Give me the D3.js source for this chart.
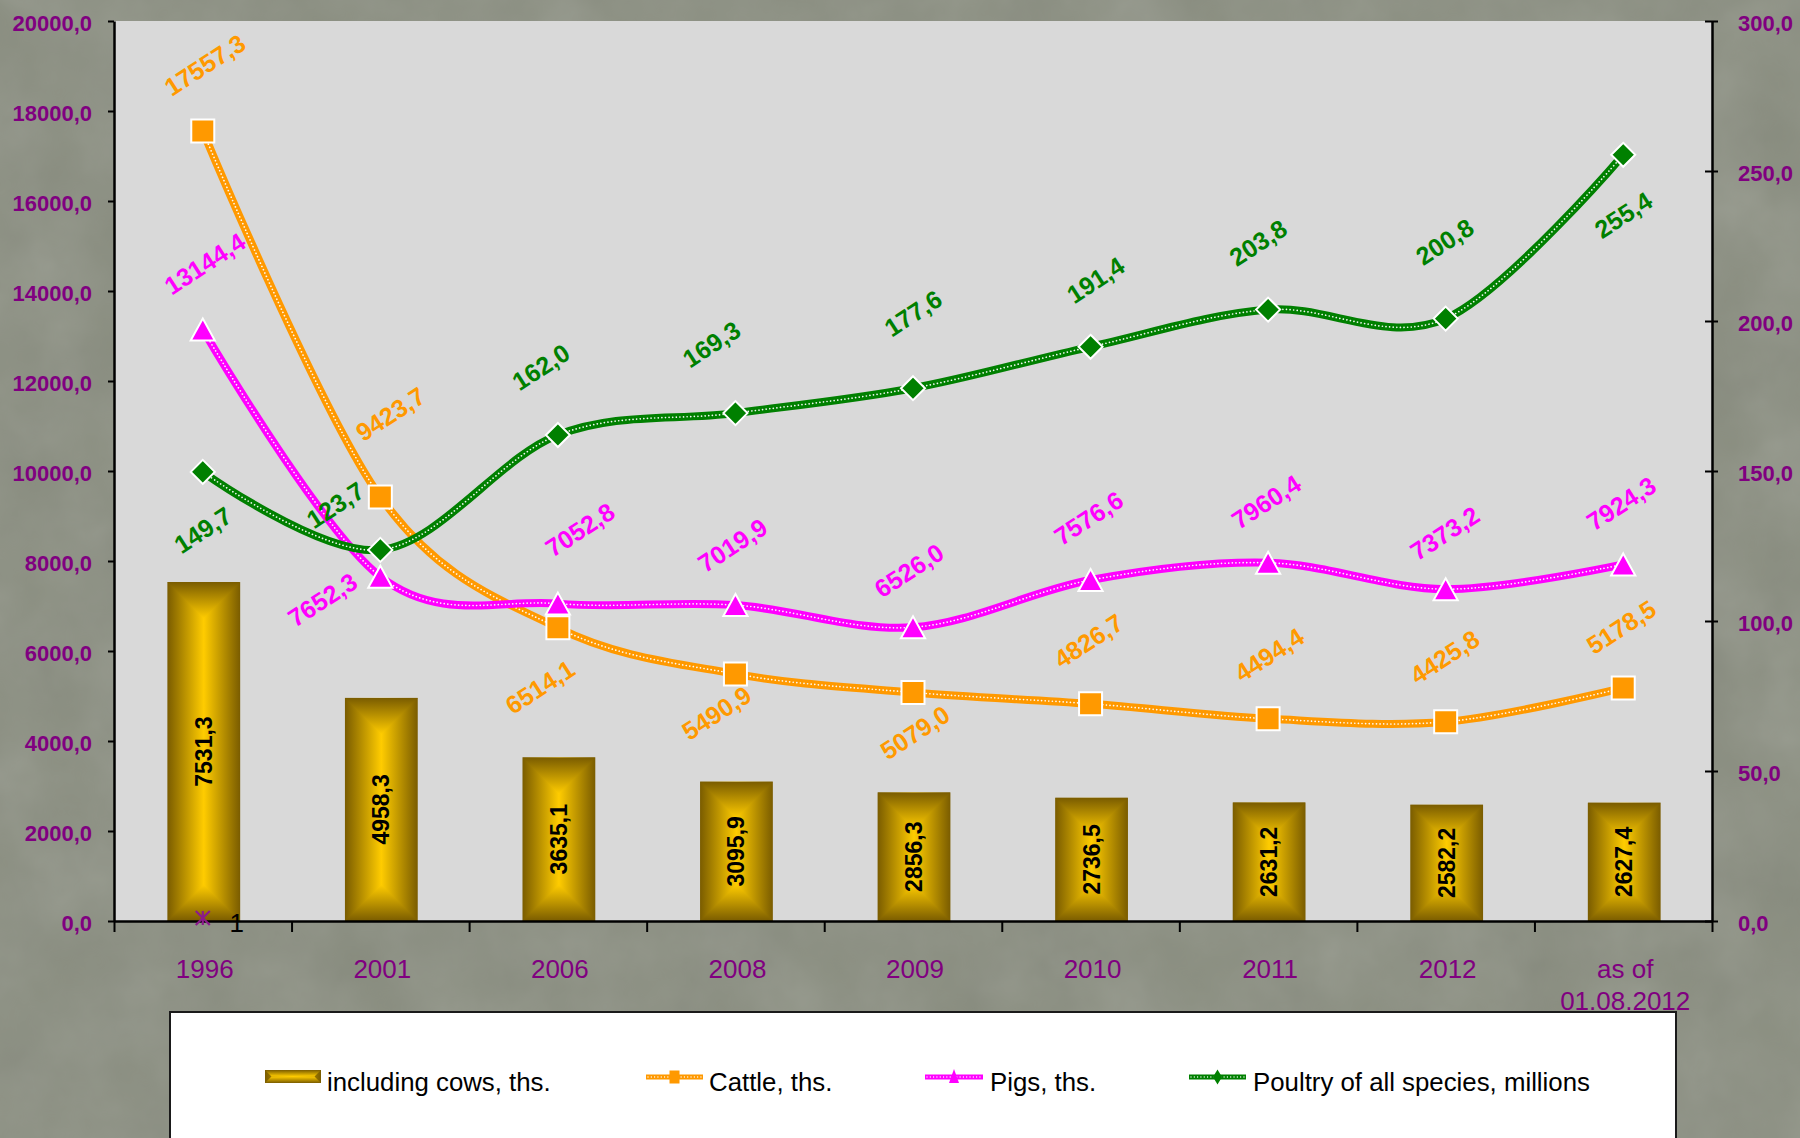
<!DOCTYPE html>
<html><head><meta charset="utf-8">
<script src="https://cdn.jsdelivr.net/npm/d3@7"></script>
<style>
html,body{margin:0;padding:0;background:#8a8e80;}
svg{display:block;font-family:"Liberation Sans",Arial,sans-serif;}
</style>
</head><body>
<svg id="chart" width="1800" height="1138"></svg>
<script>
// ---------------- DATA ----------------
const categories = ["1996","2001","2006","2008","2009","2010","2011","2012","as of\n01.08.2012"];
const cows    = [7531.3, 4958.3, 3635.1, 3095.9, 2856.3, 2736.5, 2631.2, 2582.2, 2627.4];
const cattle  = [17557.3, 9423.7, 6514.1, 5490.9, 5079.0, 4826.7, 4494.4, 4425.8, 5178.5];
const pigs    = [13144.4, 7652.3, 7052.8, 7019.9, 6526.0, 7576.6, 7960.4, 7373.2, 7924.3];
const poultry = [149.7, 123.7, 162.0, 169.3, 177.6, 191.4, 203.8, 200.8, 255.4];
const leftTicks  = [0, 2000, 4000, 6000, 8000, 10000, 12000, 14000, 16000, 18000, 20000];
const rightTicks = [0, 50, 100, 150, 200, 250, 300];
const seriesNames = ["including cows, ths.", "Cattle, ths.", "Pigs, ths.", "Poultry of all species, millions"];
const strayCategory = ["1996"];
const strayValue = [1];
const strayLabel = ["1"];

// ---------------- LAYOUT (label placement relative to markers) ----------------
const cattleLabelOff  = [[2,-66],[10,-83],[-18,59],[-19,39],[2,40],[-2,-63],[1,-64],[-1,-65],[-2,-61]];
const pigsLabelOff    = [[2,-66],[-58,23],[22,-74],[-3,-60],[-4,-57],[-2,-62],[-2,-61],[-1,-56],[-2,-61]];
const poultryLabelOff = [[0,58],[-45,-45],[-17,-68],[-24,-69],[0,-75],[5,-67],[-10,-67],[-1,-77],[0,60]];

const W = 1800, H = 1138;
const L = 114, R = 1712, T = 21, B = 921;
const C_CATTLE = "#ff9900", C_PIGS = "#ff00ff", C_POULTRY = "#008000", C_AXIS = "#800080";
const fmt = v => d3.format(".1f")(v).replace(".", ",");

const svg = d3.select("#chart");
const defs = svg.append("defs");

// background texture
const flt = defs.append("filter").attr("id","noise").attr("x",0).attr("y",0).attr("width","100%").attr("height","100%");
flt.append("feTurbulence").attr("type","fractalNoise").attr("baseFrequency","0.012").attr("numOctaves",4).attr("seed",7);
flt.append("feColorMatrix").attr("type","saturate").attr("values","0");
svg.append("rect").attr("width",W).attr("height",H).attr("fill","#8a8e80");
svg.append("rect").attr("width",W).attr("height",H).attr("fill","#fff").attr("filter","url(#noise)").attr("opacity",0.2);

// bar gradients (rectangular "from centre" look)
const DARK = "#7a5c00", BRIGHT = "#ffcc00";
function lg(id, x1,y1,x2,y2, stops){
  const g = defs.append("linearGradient").attr("id",id).attr("x1",x1).attr("y1",y1).attr("x2",x2).attr("y2",y2);
  stops.forEach(([o,c]) => g.append("stop").attr("offset",o).attr("stop-color",c));
}
lg("gH",0,0,1,0,[[0,DARK],[0.5,BRIGHT],[1,DARK]]);
lg("gTop",0,0,0,1,[[0,DARK],[1,BRIGHT]]);
lg("gBot",0,0,0,1,[[0,BRIGHT],[1,DARK]]);

function miterBar(g, x, y, w, h){
  const hw = Math.min(w, h) / 2;
  g.append("rect").attr("x",x).attr("y",y).attr("width",w).attr("height",h).attr("fill","url(#gH)");
  g.append("path").attr("d",`M${x},${y}L${x+w},${y}L${x+w-hw},${y+hw}L${x+hw},${y+hw}Z`).attr("fill","url(#gTop)");
  g.append("path").attr("d",`M${x},${y+h}L${x+w},${y+h}L${x+w-hw},${y+h-hw}L${x+hw},${y+h-hw}Z`).attr("fill","url(#gBot)");
}

// scales
const x = d3.scaleBand().domain(categories).range([L, R]).padding(0);
const cx = c => x(c) + x.bandwidth()/2;
const yL = d3.scaleLinear().domain([0, 20000]).range([B, T]);
const yR = d3.scaleLinear().domain([0, 300]).range([B, T]);

// plot area
svg.append("rect").attr("x",L).attr("y",T).attr("width",R-L).attr("height",B-T).attr("fill","#d9d9d9");

// bars
const barW = x.bandwidth() * 0.41;
const gBars = svg.append("g");
categories.forEach((c, i) => {
  const g = gBars.append("g");
  const y0 = yL(cows[i]);
  miterBar(g, cx(c) - barW/2 + 1, y0, barW, B - y0);
  g.append("text")
    .attr("transform", `translate(${cx(c)+1},${(y0+B)/2}) rotate(-90)`)
    .attr("text-anchor","middle").attr("dominant-baseline","central")
    .attr("font-size",23).attr("font-weight","bold").attr("fill","#000")
    .text(fmt(cows[i]));
});

// axes
const axL = svg.append("g").attr("transform",`translate(${L},0)`)
  .call(d3.axisLeft(yL).tickValues(leftTicks).tickSize(6).tickSizeOuter(0).tickPadding(16).tickFormat(fmt));
axL.select(".domain").attr("stroke","#000").attr("stroke-width",2.5);
axL.selectAll(".tick line").attr("stroke","#000").attr("stroke-width",2);
axL.selectAll(".tick text").attr("font-size",22).attr("font-weight","bold").attr("fill",C_AXIS)
  .attr("font-family","Liberation Sans, Arial, sans-serif").attr("dy","0.45em");

const axR = svg.append("g").attr("transform",`translate(${R},0)`)
  .call(d3.axisRight(yR).tickValues(rightTicks).tickSize(6).tickSizeOuter(0).tickPadding(20).tickFormat(fmt));
axR.select(".domain").attr("stroke","#000").attr("stroke-width",2.5);
axR.selectAll(".tick line").attr("x1",-7).attr("stroke","#000").attr("stroke-width",2);
axR.selectAll(".tick text").attr("font-size",22).attr("font-weight","bold").attr("fill",C_AXIS)
  .attr("font-family","Liberation Sans, Arial, sans-serif").attr("dy","0.45em");

// bottom axis: boundary ticks
const xb = d3.scaleLinear().domain([0, categories.length]).range([L, R]);
const axB = svg.append("g").attr("transform",`translate(0,${B})`)
  .call(d3.axisBottom(xb).tickValues(d3.range(categories.length+1)).tickSize(11).tickSizeOuter(0).tickFormat(""));
axB.select(".domain").attr("stroke","#000").attr("stroke-width",2.5);
axB.selectAll(".tick line").attr("stroke","#000").attr("stroke-width",2);

// category labels
categories.forEach(c => {
  const t = svg.append("text").attr("x",cx(c)+2).attr("y",978).attr("text-anchor","middle")
    .attr("font-size",26).attr("fill",C_AXIS);
  c.split("\n").forEach((ln, k) => {
    t.append("tspan").attr("x",cx(c)+2).attr("dy", k ? 32 : 0).text(ln);
  });
});

// lines
const curve = d3.curveCatmullRom.alpha(0);
function drawSeries(vals, yS, color){
  const pts = vals.map((v,i) => [cx(categories[i]), yS(v)]);
  const line = d3.line().curve(curve);
  svg.append("path").attr("d",line(pts)).attr("fill","none").attr("stroke",color).attr("stroke-width",8)
    .attr("stroke-linecap","round");
  svg.append("path").attr("d",line(pts)).attr("fill","none").attr("stroke","#fff").attr("stroke-width",1.7)
    .attr("stroke-dasharray","0.01 3.6").attr("stroke-linecap","round").attr("opacity",0.95);
  return pts;
}
const pC = drawSeries(cattle, yL, C_CATTLE);
const pP = drawSeries(pigs, yL, C_PIGS);
const pQ = drawSeries(poultry, yR, C_POULTRY);

const shapes = {
  square: s => `M${-s},${-s}H${s}V${s}H${-s}Z`,
  tri: s => `M0,${-s}L${s*1.1},${s}L${-s*1.1},${s}Z`,
  diamond: s => `M0,${-s}L${s},0L0,${s}L${-s},0Z`
};
function markers(pts, shape, s, color){
  svg.append("g").selectAll("path").data(pts).join("path")
    .attr("transform", d => `translate(${d[0]},${d[1]})`)
    .attr("d", shapes[shape](s)).attr("fill",color).attr("stroke","#fff").attr("stroke-width",2);
}
markers(pC, "square", 11.5, C_CATTLE);
markers(pP, "tri", 11, C_PIGS);
markers(pQ, "diamond", 12, C_POULTRY);

function labels(pts, vals, offs, color){
  svg.append("g").selectAll("text").data(pts).join("text")
    .attr("transform", (d,i) => `translate(${d[0]+offs[i][0]},${d[1]+offs[i][1]}) rotate(-33)`)
    .attr("text-anchor","middle").attr("dominant-baseline","central")
    .attr("font-size",25).attr("font-weight","bold").attr("fill",color)
    .text((d,i) => fmt(vals[i]));
}
labels(pC, cattle, cattleLabelOff, C_CATTLE);
labels(pP, pigs, pigsLabelOff, C_PIGS);
labels(pQ, poultry, poultryLabelOff, C_POULTRY);

// stray point (asterisk marker with label)
strayCategory.forEach((c,i) => {
  const sx = cx(c), sy = yR(strayValue[i]);
  const g = svg.append("g").attr("transform",`translate(${sx},${sy})`).attr("stroke","#8b1a8b").attr("stroke-width",2.2);
  g.append("line").attr("x1",-7).attr("y1",-7).attr("x2",7).attr("y2",7);
  g.append("line").attr("x1",-7).attr("y1",7).attr("x2",7).attr("y2",-7);
  g.append("line").attr("x1",0).attr("y1",-7).attr("x2",0).attr("y2",7);
  svg.append("text").attr("x",sx+34).attr("y",sy+14).attr("text-anchor","middle")
    .attr("font-size",26).attr("fill","#000").text(strayLabel[i]);
});

// legend
svg.append("rect").attr("x",170).attr("y",1012).attr("width",1506).attr("height",150)
  .attr("fill","#fff").attr("stroke","#1a1a1a").attr("stroke-width",2);
const lgY = 1077;
const lg0 = svg.append("g");
miterBar(lg0, 265, 1070, 56, 13);
const legendItems = [
  {x0:646, x1:703, tx:709, color:C_CATTLE, shape:"square"},
  {x0:925, x1:983, tx:990, color:C_PIGS, shape:"tri"},
  {x0:1189, x1:1246, tx:1253, color:C_POULTRY, shape:"diamond"}
];
lg0.append("text").attr("x",327).attr("y",1091).attr("font-size",25.8).attr("fill","#000").text(seriesNames[0]);
legendItems.forEach((it, k) => {
  lg0.append("line").attr("x1",it.x0).attr("x2",it.x1).attr("y1",lgY).attr("y2",lgY)
    .attr("stroke",it.color).attr("stroke-width",5);
  lg0.append("line").attr("x1",it.x0+2).attr("x2",it.x1-2).attr("y1",lgY).attr("y2",lgY)
    .attr("stroke","#fff").attr("stroke-width",1.3).attr("stroke-dasharray","0.01 3.3").attr("stroke-linecap","round");
  const mx = (it.x0+it.x1)/2;
  let d;
  if (it.shape === "square") d = `M${mx-5},${lgY-6.5}H${mx+5}V${lgY+6.5}H${mx-5}Z`;
  else if (it.shape === "tri") d = `M${mx},${lgY-8}L${mx+5},${lgY+6}L${mx-5},${lgY+6}Z`;
  else d = `M${mx},${lgY-7.5}L${mx+4.5},${lgY}L${mx},${lgY+7.5}L${mx-4.5},${lgY}Z`;
  lg0.append("path").attr("d",d).attr("fill",it.color);
  lg0.append("text").attr("x",it.tx).attr("y",1091).attr("font-size",25.8).attr("fill","#000").text(seriesNames[k+1]);
});
</script>
</body></html>
